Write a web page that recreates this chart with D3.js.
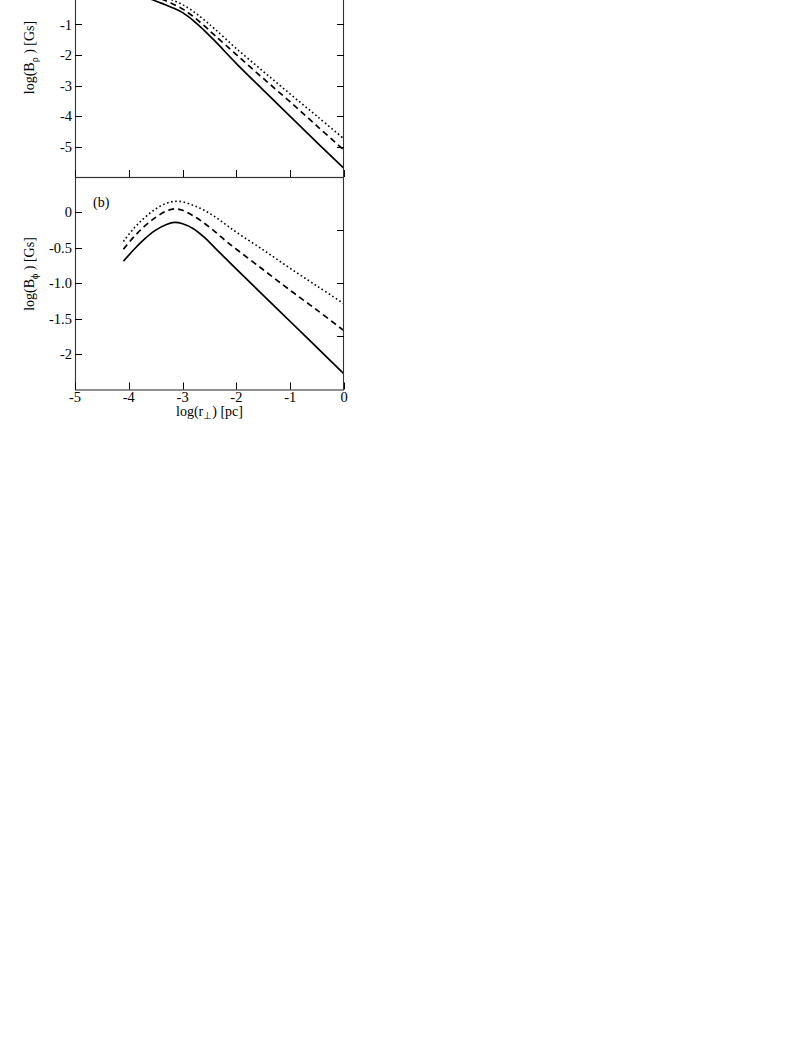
<!DOCTYPE html>
<html>
<head>
<meta charset="utf-8">
<script src="https://cdn.jsdelivr.net/npm/d3@7"></script>
<style>
  html, body { margin: 0; padding: 0; background: #fff; }
  svg { display: block; }
  text { font-family: "Liberation Serif", "Times New Roman", serif; fill: #000; }
</style>
</head>
<body>
<script>
// ---- Data ----
// Panel (a): log(B_p) vs log(r_perp)
const xA = [-4.1, -3.8, -3.6, -3.4, -3.2, -3.0, -2.8, -2.6, -2.4, -2.0, -1.5, -1.0, -0.5, 0];
const aSolid  = [0.15, 0.0, -0.16, -0.30, -0.44, -0.61, -0.87, -1.19, -1.54, -2.28, -3.15, -4.01, -4.87, -5.72];
const aDashed = [0.25, 0.12, -0.02, -0.16, -0.31, -0.49, -0.74, -1.04, -1.36, -1.99, -2.77, -3.54, -4.33, -5.12];
const aDotted = [0.30, 0.18, 0.07, -0.05, -0.19, -0.35, -0.57, -0.85, -1.15, -1.79, -2.54, -3.28, -4.01, -4.75];

// Panel (b): log(B_phi) vs log(r_perp)
const xB = [-4.1, -3.9, -3.7, -3.5, -3.3, -3.15, -3.0, -2.8, -2.6, -2.4, -2.2, -2.0, -1.5, -1.0, -0.5, 0];
const bSolid  = [-0.69, -0.52, -0.37, -0.25, -0.17, -0.14, -0.16, -0.23, -0.35, -0.50, -0.65, -0.80, -1.17, -1.54, -1.91, -2.28];
const bDashed = [-0.52, -0.34, -0.19, -0.07, 0.02, 0.05, 0.03, -0.05, -0.15, -0.27, -0.40, -0.52, -0.81, -1.10, -1.38, -1.67];
const bDotted = [-0.41, -0.22, -0.07, 0.05, 0.13, 0.155, 0.15, 0.10, 0.03, -0.06, -0.17, -0.28, -0.53, -0.79, -1.04, -1.29];

// Ticks
const xTicks = [-5, -4, -3, -2, -1, 0];
const xTickLabels = ["-5", "-4", "-3", "-2", "-1", "0"];
const aYTicks = [1, 0, -1, -2, -3, -4, -5];
const aYTickLabels = ["1", "0", "-1", "-2", "-3", "-4", "-5"];
const bYTicks = [0, -0.5, -1.0, -1.5, -2];
const bYTickLabels = ["0", "-0.5", "-1.0", "-1.5", "-2"];
const bRightTicks = [-0.25, -1.0, -1.75];

// ---- Layout ----
const W = 808, H = 1045;
const L = 75, R = 344;
const aTop = -36.5, aBottom = 177;
const bTop = 177, bBottom = 389.5;
const TL = 7;

const svg = d3.select("body").append("svg").attr("width", W).attr("height", H);

const x = d3.scaleLinear().domain([-5, 0]).range([L, R]);
const yA = d3.scaleLinear().domain([-6, 1]).range([aBottom, aTop]);
const yB = d3.scaleLinear().domain([-2.5, 0.5]).range([bBottom, bTop]);

const styles = [
  { key: "solid",  width: 1.7, dash: null },
  { key: "dashed", width: 1.7, dash: "6,4" },
  { key: "dotted", width: 1.6, dash: "1.6,2.6" }
];

function drawPanel(yScale, top, bottom, xs, series, yTicks, yLabels, rightTicks) {
  const g = svg.append("g");
  const clipId = "clip" + Math.round(top * 10 + 1000);
  svg.append("clipPath").attr("id", clipId)
    .append("rect").attr("x", L).attr("y", top).attr("width", R - L).attr("height", bottom - top);

  const line = d3.line().curve(d3.curveCatmullRom.alpha(0.5));
  const lg = g.append("g").attr("clip-path", `url(#${clipId})`);
  series.forEach((vals, i) => {
    const st = styles[i];
    lg.append("path")
      .attr("d", line(xs.map((xv, j) => [x(xv), yScale(vals[j])])))
      .attr("fill", "none")
      .attr("stroke", "#000")
      .attr("stroke-width", st.width)
      .attr("stroke-dasharray", st.dash)
      .attr("stroke-linecap", "butt");
  });

  // Frame
  g.append("rect").attr("x", L + 0.5).attr("y", top + 0.5)
    .attr("width", R - L - 1).attr("height", bottom - top)
    .attr("fill", "none").attr("stroke", "#333").attr("stroke-width", 1.1);

  // Left ticks (inward) + labels
  yTicks.forEach((t, i) => {
    const yy = Math.round(yScale(t)) + 0.5;
    g.append("line").attr("x1", L).attr("x2", L + TL).attr("y1", yy).attr("y2", yy)
      .attr("stroke", "#000").attr("stroke-width", 1);
    g.append("text").attr("x", L - 3).attr("y", yScale(t))
      .attr("text-anchor", "end").attr("dominant-baseline", "central")
      .attr("font-size", 14.5).text(yLabels[i]);
  });
  // Right ticks (inward)
  rightTicks.forEach(t => {
    const yy = Math.round(yScale(t)) + 0.5;
    g.append("line").attr("x1", R - TL).attr("x2", R).attr("y1", yy).attr("y2", yy)
      .attr("stroke", "#000").attr("stroke-width", 1);
  });
  // Bottom x ticks pointing up
  xTicks.forEach(t => {
    const xx = Math.round(x(t)) + 0.5;
    g.append("line").attr("x1", xx).attr("x2", xx).attr("y1", bottom).attr("y2", bottom - TL)
      .attr("stroke", "#000").attr("stroke-width", 1);
  });
  return g;
}

drawPanel(yA, aTop, aBottom, xA, [aSolid, aDashed, aDotted], aYTicks, aYTickLabels, aYTicks);
drawPanel(yB, bTop, bBottom, xB, [bSolid, bDashed, bDotted], bYTicks, bYTickLabels, bRightTicks);

// x tick labels on bottom panel
xTicks.forEach((t, i) => {
  svg.append("text").attr("x", x(t)).attr("y", 402)
    .attr("text-anchor", "middle").attr("font-size", 14.5).text(xTickLabels[i]);
});

// Axis titles
const tA = svg.append("text").attr("transform", "translate(34,57.5) rotate(-90)")
  .attr("text-anchor", "middle").attr("font-size", 14);
tA.append("tspan").text("log(B");
tA.append("tspan").attr("font-size", 10).attr("dy", 4).text("ρ");
tA.append("tspan").attr("dy", -4).text(" ) [Gs]");

const tB = svg.append("text").attr("transform", "translate(34,274) rotate(-90)")
  .attr("text-anchor", "middle").attr("font-size", 14);
tB.append("tspan").text("log(B");
tB.append("tspan").attr("font-size", 10).attr("dy", 4).text("ϕ");
tB.append("tspan").attr("dy", -4).text(" ) [Gs]");

const tX = svg.append("text").attr("x", (L + R) / 2).attr("y", 416)
  .attr("text-anchor", "middle").attr("font-size", 14);
tX.append("tspan").text("log(r");
tX.append("tspan").attr("font-size", 10).attr("dy", 3).text("⊥");
tX.append("tspan").attr("dy", -3).text(") [pc]");

svg.append("text").attr("x", 93).attr("y", 207).attr("font-size", 14).text("(b)");
</script>
</body>
</html>
